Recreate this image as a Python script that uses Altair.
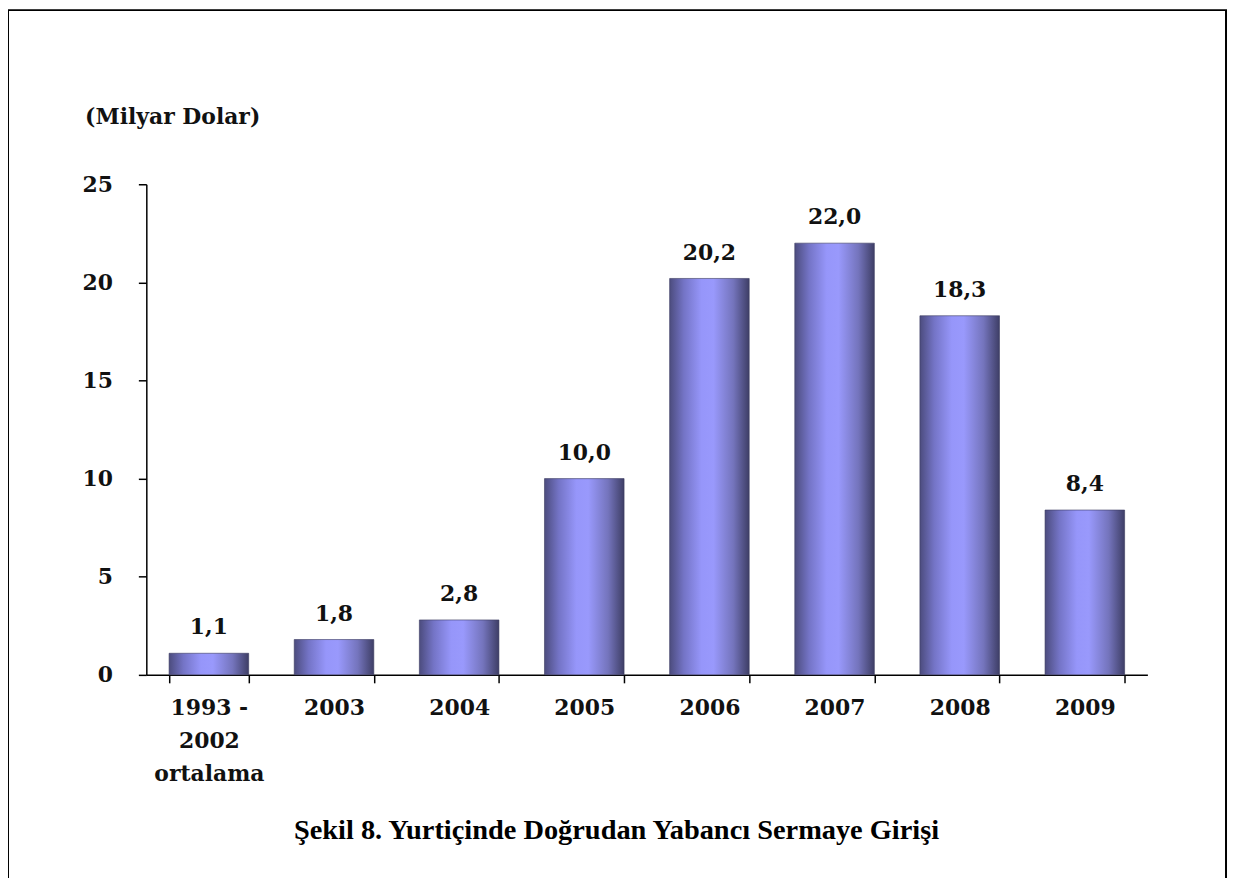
import altair as alt
import pandas as pd

categories = ["1993 -|2002|ortalama", "2003", "2004", "2005", "2006", "2007", "2008", "2009"]
values = [1.1, 1.8, 2.8, 10.0, 20.2, 22.0, 18.3, 8.4]
y_ticks = [0, 5, 10, 15, 20, 25]
y_title = "(Milyar Dolar)"
caption = "Şekil 8. Yurtiçinde Doğrudan Yabancı Sermaye Girişi"

df = pd.DataFrame({"kategori": categories, "deger": values})
df["etiket"] = [f"{v:.1f}".replace(".", ",") for v in values]

W, H = 1006, 493
PAD = {"left": 139, "top": 175, "right": 81, "bottom": 202}

LABEL_FONT = "DejaVu Serif"
CAP_FONT = "Liberation Serif"

grad = alt.Gradient(
    gradient="linear",
    x1=0, x2=1, y1=0, y2=0,
    stops=[
        alt.GradientStop(color="#4c4c7e", offset=0),
        alt.GradientStop(color="#7474c6", offset=0.18),
        alt.GradientStop(color="#9696fa", offset=0.4),
        alt.GradientStop(color="#9999fc", offset=0.55),
        alt.GradientStop(color="#7474bc", offset=0.8),
        alt.GradientStop(color="#3e3e66", offset=1),
    ],
)

x_enc = alt.X(
    "kategori:N",
    sort=categories,
    scale=alt.Scale(paddingInner=0.364, paddingOuter=0.182),
    axis=alt.Axis(
        title=caption,
        titleFont=CAP_FONT,
        titleFontSize=28.5,
        titleFontWeight="bold",
        titleColor="#000000",
        titleX=472,
        titleY=155,
        titleAnchor="start",
        titleAlign="center",
        titleBaseline="middle",
        labelExpr="split(datum.label, '|')",
        labelAngle=0,
        labelFont=LABEL_FONT,
        labelFontSize=22,
        labelFontWeight="bold",
        labelColor="#111111",
        labelLineHeight=33,
        labelPadding=15,
        labelBaseline="top",
        tickBand="extent",
        tickSize=8,
        tickColor="#000000",
        tickWidth=1.5,
        domainColor="#000000",
        domainWidth=1.5,
        grid=False,
    ),
)

y_enc = alt.Y(
    "deger:Q",
    scale=alt.Scale(domain=[0, 25], nice=False),
    axis=alt.Axis(
        title=y_title,
        titleFont=LABEL_FONT,
        titleFontSize=22,
        titleFontWeight="bold",
        titleColor="#111111",
        titleAngle=0,
        titleX=-62,
        titleY=-68,
        titleAlign="left",
        titleBaseline="middle",
        values=y_ticks,
        labelFont=LABEL_FONT,
        labelFontSize=22,
        labelFontWeight="bold",
        labelColor="#111111",
        labelPadding=26,
        tickSize=8,
        tickColor="#000000",
        tickWidth=1.5,
        domainColor="#000000",
        domainWidth=1.5,
        grid=False,
    ),
)

base = alt.Chart(df).encode(x=x_enc, y=y_enc)

bars = base.mark_bar(color=grad, stroke="#3a3a5e", strokeWidth=0.6)

labels = base.mark_text(
    font=LABEL_FONT,
    fontSize=22,
    fontWeight="bold",
    color="#111111",
    baseline="alphabetic",
    align="center",
    dy=-19,
).encode(text="etiket:N")

frame = alt.Chart(alt.Data(values=[{"f": 1}])).mark_rect(
    fill=None, stroke="#000000", strokeWidth=2
).encode(
    x=alt.value(-139),
    x2=alt.value(W + 79),
    y=alt.value(-175),
    y2=alt.value(H + 260),
)

chart = (
    alt.layer(frame, bars, labels)
    .properties(
        width=W,
        height=H,
        padding=PAD,
        autosize=alt.AutoSizeParams(type="none"),
        background="#ffffff",
    )
    .configure_view(stroke=None)
)

chart.save("out.html", embed_options={"renderer": "svg", "actions": False})
